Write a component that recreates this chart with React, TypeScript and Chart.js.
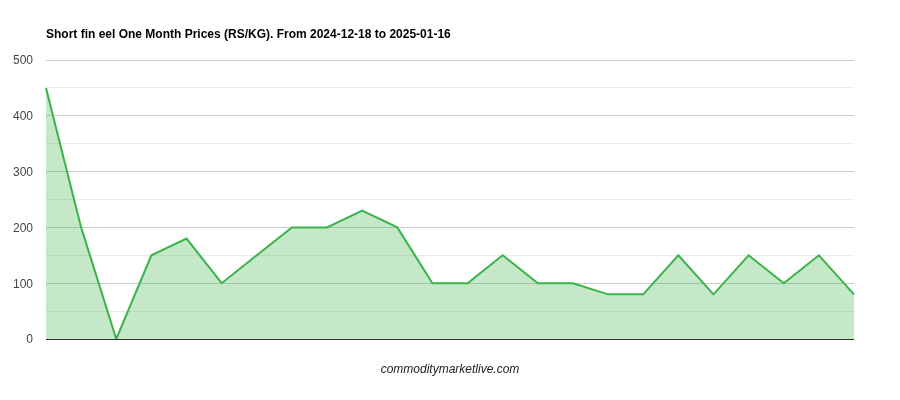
import React, { useEffect, useRef } from 'react';
import { Chart, registerables, Plugin } from 'chart.js';

Chart.register(...registerables);

const TITLE = 'Short fin eel One Month Prices (RS/KG). From 2024-12-18 to 2025-01-16';
const FOOTER = 'commoditymarketlive.com';

// one entry per day, no x labels are shown on the chart
const dates = [
  '2024-12-18', '2024-12-19', '2024-12-20', '2024-12-21', '2024-12-23', '2024-12-24',
  '2024-12-25', '2024-12-26', '2024-12-27', '2024-12-28', '2024-12-30', '2024-12-31',
  '2025-01-01', '2025-01-02', '2025-01-03', '2025-01-04', '2025-01-06', '2025-01-07',
  '2025-01-08', '2025-01-09', '2025-01-10', '2025-01-11', '2025-01-13', '2025-01-16',
];
const prices = [
  450, 200, 0, 150, 180, 100, 150, 200, 200, 230, 200, 100,
  100, 150, 100, 100, 80, 80, 150, 80, 150, 100, 150, 80,
];

const FONT = 'Arial, "Liberation Sans", sans-serif';

const textPlugin: Plugin<'line'> = {
  id: 'texts',
  afterDraw(chart) {
    const { ctx, chartArea } = chart;
    ctx.save();
    ctx.fillStyle = '#000';
    ctx.font = `bold 12px ${FONT}`;
    ctx.textAlign = 'left';
    ctx.textBaseline = 'middle';
    ctx.fillText(TITLE, chartArea.left, 35);

    ctx.fillStyle = '#222';
    ctx.font = `italic 12px ${FONT}`;
    ctx.textAlign = 'center';
    ctx.fillText(FOOTER, chart.width / 2, 370);
    ctx.restore();
  },
};

const PriceChart: React.FC = () => {
  const canvasRef = useRef<HTMLCanvasElement>(null);

  useEffect(() => {
    if (!canvasRef.current) return;
    const chart = new Chart(canvasRef.current, {
      type: 'line',
      data: {
        labels: dates,
        datasets: [{
          data: prices,
          borderColor: '#3bb34a',
          backgroundColor: 'rgba(59,179,74,0.3)',
          borderWidth: 2,
          pointRadius: 0,
          tension: 0,
          fill: 'origin',
        }],
      },
      options: {
        animation: false,
        responsive: false,
        layout: { padding: { top: 60, right: 46, bottom: 61, left: 0 } },
        plugins: {
          legend: { display: false },
          tooltip: { enabled: false },
        },
        scales: {
          x: { display: false },
          y: {
            min: 0,
            max: 500,
            afterFit: (scale) => { scale.width = 46; },
            border: { display: false },
            grid: {
              drawTicks: false,
              color: (c) => {
                const v = c.tick ? c.tick.value : 0;
                if (v === 0) return '#333';
                return v % 100 === 0 ? '#cccccc' : '#ebebeb';
              },
            },
            ticks: {
              stepSize: 50,
              padding: 13,
              labelOffset: 1,
              color: '#444',
              font: { family: FONT, size: 12 },
              callback: (v) => (Number(v) % 100 === 0 ? String(v) : ''),
            },
          },
        },
      },
      plugins: [textPlugin],
    });
    return () => chart.destroy();
  }, []);

  return <canvas ref={canvasRef} width={900} height={400} style={{ display: 'block' }} />;
};

export default function App() {
  useEffect(() => {
    document.body.style.margin = '0';
  }, []);
  return (
    <div style={{ width: 900, height: 400, background: '#fff' }}>
      <PriceChart />
    </div>
  );
}
